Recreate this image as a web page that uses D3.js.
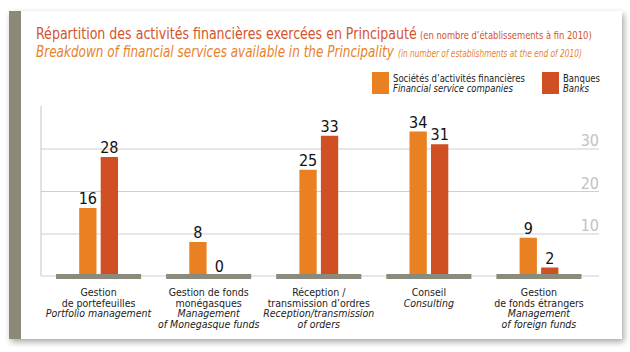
<!DOCTYPE html>
<html>
<head>
<meta charset="utf-8">
<script src="https://cdn.jsdelivr.net/npm/d3@7"></script>
<style>
  body { margin: 0; background: #fff; }
  svg { display: block; }
  text { font-family: "Liberation Sans Narrow", "DejaVu Sans Condensed", "Liberation Sans", sans-serif; }
</style>
</head>
<body>
<svg id="chart"></svg>
<script>
// catégories (français / anglais)
const categoriesFr = [
    ["Gestion", "de portefeuilles"],
    ["Gestion de fonds", "monégasques"],
    ["Réception /", "transmission d’ordres"],
    ["Conseil"],
    ["Gestion", "de fonds étrangers"]
];
const categoriesEn = [
    ["Portfolio management"],
    ["Management", "of Monegasque funds"],
    ["Reception/transmission", "of orders"],
    ["Consulting"],
    ["Management", "of foreign funds"]
];
const societes = [16, 8, 25, 34, 9];
const banques = [28, 0, 33, 31, 2];
const tickValues = [10, 20, 30];

const width = 630, height = 352;
const colors = { soc: "#e98021", ban: "#d04f23" };

const svg = d3.select("#chart")
    .attr("width", width)
    .attr("height", height);

// ombre du cadre
const defs = svg.append("defs");
const shadow = defs.append("filter").attr("id", "shadow")
    .attr("x", "-5%").attr("y", "-5%").attr("width", "110%").attr("height", "115%");
shadow.append("feDropShadow")
    .attr("dx", 2).attr("dy", 3).attr("stdDeviation", 3)
    .attr("flood-color", "#000").attr("flood-opacity", 0.35);

svg.append("rect")
    .attr("x", 9).attr("y", 11).attr("width", 613).attr("height", 328)
    .attr("fill", "#fff")
    .attr("filter", "url(#shadow)");
svg.append("rect")
    .attr("x", 9).attr("y", 11).attr("width", 12).attr("height", 328)
    .attr("fill", "#8b8a78");

// texte étroit : on mesure puis on resserre horizontalement
function fitText(parent, x, y, w, str, size, fill, italic) {
    const g = parent.append("g");
    const t = g.append("text")
        .attr("font-size", size)
        .attr("fill", fill)
        .attr("font-style", italic ? "italic" : "normal")
        .text(str);
    const len = t.node().getComputedTextLength();
    const k = Math.min(1, w / len);
    g.attr("transform", `translate(${x},${y}) scale(${k},1)`);
    return t;
}

// titres
fitText(svg, 36, 38.5, 381, "Répartition des activités financières exercées en Principauté", 16.5, "#d4532a", false);
fitText(svg, 420, 38.5, 172, "(en nombre d’établissements à fin 2010)", 11, "#d4532a", false);
fitText(svg, 36, 56.5, 358, "Breakdown of financial services available in the Principality", 16.5, "#e8822a", true);
fitText(svg, 398, 56.5, 184, "(in number of establishments at the end of 2010)", 10.5, "#e8822a", true);

// légende
const legend = [
    { key: "soc", x: 372, fr: "Sociétés d’activités financières", en: "Financial service companies", w: 132 },
    { key: "ban", x: 542, fr: "Banques", en: "Banks", w: 37 }
];
legend.forEach(d => {
    svg.append("rect")
        .attr("x", d.x).attr("y", 72)
        .attr("width", 17).attr("height", 22)
        .attr("fill", colors[d.key]);
    const g = svg.append("g");
    const t = g.append("text").attr("font-size", 10).attr("fill", "#222");
    const first = t.append("tspan").attr("x", 0).attr("y", 0).text(d.fr);
    t.append("tspan").attr("x", 0).attr("y", 10.6).attr("font-style", "italic").text(d.en);
    const k = Math.min(1, d.w / first.node().getComputedTextLength());
    g.attr("transform", `translate(${d.x + 21},81.8) scale(${k},1)`);
});

// échelles
const x = d3.scaleBand()
    .domain(d3.range(societes.length))
    .range([43.5, 594])
    .paddingInner(0.227)
    .paddingOuter(0.1135);
const x1 = d3.scaleBand()
    .domain(["soc", "ban"])
    .range([23.2, 62])
    .paddingInner(0.195);
const y = d3.scaleLinear().domain([0, 40]).range([276, 106]);

const axisLeftX = 41, axisRightX = 599;

// grille et graduations
const yAxis = svg.append("g")
    .attr("transform", `translate(${axisLeftX},0)`)
    .call(d3.axisRight(y).tickValues(tickValues).tickSize(axisRightX - axisLeftX).tickFormat(d3.format("d")));
yAxis.select(".domain").remove();
yAxis.selectAll(".tick line").attr("stroke", "#cfcfcf").attr("stroke-width", 1.2);
yAxis.selectAll(".tick text")
    .attr("x", axisRightX - axisLeftX)
    .attr("dy", -3)
    .attr("text-anchor", "end")
    .attr("font-size", 16)
    .attr("font-family", "'Liberation Sans', sans-serif")
    .attr("fill", "#c2c2c2");

// axes
svg.append("line")
    .attr("x1", axisLeftX).attr("x2", axisLeftX)
    .attr("y1", y(40)).attr("y2", y(0))
    .attr("stroke", "#cfcfcf").attr("stroke-width", 1.2);
svg.append("line")
    .attr("x1", axisLeftX).attr("x2", axisRightX)
    .attr("y1", y(0)).attr("y2", y(0))
    .attr("stroke", "#cfcfcf").attr("stroke-width", 1.2);

// données par catégorie
const data = societes.map((v, i) => ({ i, soc: v, ban: banques[i] }));

const groups = svg.append("g").selectAll("g").data(data).join("g")
    .attr("transform", d => `translate(${x(d.i)},0)`);

const bars = groups.selectAll("g.bar")
    .data(d => ["soc", "ban"].map(k => ({ key: k, value: d[k] })))
    .join("g").attr("class", "bar");

bars.append("rect")
    .attr("x", d => x1(d.key))
    .attr("y", d => y(d.value))
    .attr("width", x1.bandwidth())
    .attr("height", d => y(0) - y(d.value))
    .attr("fill", d => colors[d.key]);

bars.append("text")
    .attr("x", d => x1(d.key) + x1.bandwidth() / 2)
    .attr("y", d => Math.min(y(d.value), 276) - 4)
    .attr("text-anchor", "middle")
    .attr("font-size", 16)
    .attr("font-family", "'Liberation Sans', sans-serif")
    .attr("fill", "#111")
    .text(d => d.value);

// socle gris
groups.append("rect")
    .attr("x", 0).attr("y", 274)
    .attr("width", x.bandwidth()).attr("height", 5)
    .attr("fill", "#8b8b7d");

// libellés
const labels = groups.append("text")
    .attr("text-anchor", "middle")
    .attr("font-size", 10.5)
    .attr("fill", "#222");
labels.each(function (d) {
    const t = d3.select(this);
    const lines = categoriesFr[d.i].map(s => ({ s, it: false }))
        .concat(categoriesEn[d.i].map(s => ({ s, it: true })));
    lines.forEach((l, k) => {
        t.append("tspan")
            .attr("x", x.bandwidth() / 2)
            .attr("y", 296 + k * 10.7)
            .attr("font-style", l.it ? "italic" : "normal")
            .text(l.s);
    });
});
</script>
</body>
</html>
